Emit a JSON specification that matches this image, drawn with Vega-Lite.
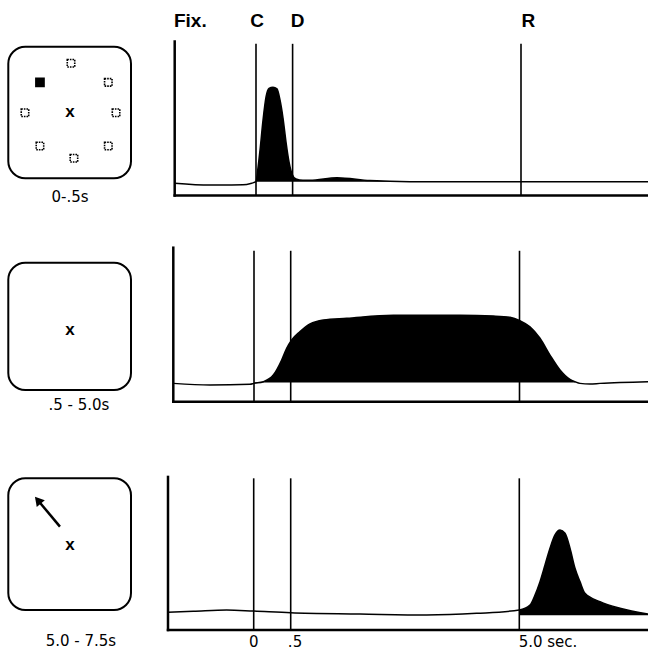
{
  "$schema": "https://vega.github.io/schema/vega-lite/v6.json",
  "padding": 0,
  "background": "white",
  "config": {"view": {"stroke": null}, "axis": {"disable": true}, "font": "Liberation Sans"},
  "columns": 2,
  "spacing": 0,
  "bounds": "flush",
  "datasets": {
    "row1": [
      {"t": -1.6, "rate": 8.0}, {"t": -0.905, "rate": 6.8}, {"t": -0.256, "rate": 6.9}, {"t": -0.085, "rate": 8.0},
      {"t": 0, "rate": 9.0}, {"t": 0.027, "rate": 17.9}, {"t": 0.055, "rate": 29.5}, {"t": 0.096, "rate": 49.0},
      {"t": 0.137, "rate": 64.0}, {"t": 0.178, "rate": 69.5}, {"t": 0.232, "rate": 70.3}, {"t": 0.287, "rate": 69.2},
      {"t": 0.328, "rate": 62.0}, {"t": 0.369, "rate": 50.3}, {"t": 0.41, "rate": 34.7}, {"t": 0.451, "rate": 21.8},
      {"t": 0.492, "rate": 14.0}, {"t": 0.567, "rate": 10.7}, {"t": 0.705, "rate": 9.9}, {"t": 0.843, "rate": 9.9},
      {"t": 1.375, "rate": 11.6}, {"t": 2.025, "rate": 9.7}, {"t": 2.81, "rate": 9.0}, {"t": 7.5, "rate": 9.0}
    ],
    "row2": [
      {"t": -1.6, "rate": 11.9}, {"t": -0.872, "rate": 10.8}, {"t": -0.079, "rate": 11.3}, {"t": 0, "rate": 11.9},
      {"t": 0.127, "rate": 13.0}, {"t": 0.263, "rate": 17.3}, {"t": 0.377, "rate": 27.1}, {"t": 0.445, "rate": 34.7},
      {"t": 0.52, "rate": 40.1}, {"t": 0.683, "rate": 45.5}, {"t": 0.88, "rate": 50.5}, {"t": 1.142, "rate": 53.1},
      {"t": 1.602, "rate": 54.2}, {"t": 2.52, "rate": 56.1}, {"t": 3.833, "rate": 56.1}, {"t": 4.488, "rate": 55.6},
      {"t": 4.813, "rate": 54.8}, {"t": 5.01, "rate": 52.6}, {"t": 5.204, "rate": 48.7}, {"t": 5.399, "rate": 41.2},
      {"t": 5.593, "rate": 30.3}, {"t": 5.788, "rate": 20.6}, {"t": 5.982, "rate": 14.5}, {"t": 6.08, "rate": 13.0},
      {"t": 6.177, "rate": 11.9}, {"t": 6.371, "rate": 11.5}, {"t": 6.566, "rate": 11.9}, {"t": 7.5, "rate": 13.0}
    ],
    "row3": [
      {"t": -1.6, "rate": 11.5}, {"t": -1.128, "rate": 12.1}, {"t": -0.505, "rate": 13.0}, {"t": 0, "rate": 12.3},
      {"t": 0.5, "rate": 11.2}, {"t": 1.864, "rate": 10.4}, {"t": 3.177, "rate": 9.7}, {"t": 4.16, "rate": 10.8},
      {"t": 5.0, "rate": 13.0}, {"t": 5.208, "rate": 16.2}, {"t": 5.305, "rate": 22.7}, {"t": 5.402, "rate": 31.4},
      {"t": 5.499, "rate": 42.2}, {"t": 5.596, "rate": 53.1}, {"t": 5.693, "rate": 61.7}, {"t": 5.791, "rate": 64.9},
      {"t": 5.888, "rate": 62.8}, {"t": 5.985, "rate": 53.1}, {"t": 6.082, "rate": 40.1}, {"t": 6.179, "rate": 31.4},
      {"t": 6.276, "rate": 23.8}, {"t": 6.568, "rate": 18.4}, {"t": 6.956, "rate": 14.1}, {"t": 7.5, "rate": 10.4}
    ],
    "events": [{"t": 0}, {"t": 0.5}, {"t": 5}],
    "head": [{"t": -1.293, "label": "Fix."}, {"t": 0.016, "label": "C"}, {"t": 0.597, "label": "D"}, {"t": 5.144, "label": "R"}],
    "foot": [{"t": 0, "label": "0"}, {"t": 0.585, "label": ".5"}, {"t": 5.558, "label": "5.0 sec."}],
    "p1": [
      {"u": 0.511, "v": 0.874, "kind": "target"}, {"u": 0.815, "v": 0.729, "kind": "target"},
      {"u": 0.878, "v": 0.498, "kind": "target"}, {"u": 0.815, "v": 0.245, "kind": "target"},
      {"u": 0.535, "v": 0.152, "kind": "target"}, {"u": 0.258, "v": 0.245, "kind": "target"},
      {"u": 0.136, "v": 0.498, "kind": "target"}, {"u": 0.258, "v": 0.729, "kind": "cue"}
    ]
  },
  "concat": [
    {
      "width": 168, "height": 210,
      "layer": [
        {"data": {"values": [{}]}, "mark": {"type": "rect", "cornerRadius": 17, "filled": false, "color": "black", "strokeWidth": 2},
         "encoding": {"x": {"datum": 0, "type": "quantitative", "scale": {"domain": [-0.0676, 1.3015], "nice": false, "zero": false}}, "x2": {"datum": 1},
                      "y": {"datum": 0, "type": "quantitative", "scale": {"domain": [-0.241, 1.355], "nice": false, "zero": false}}, "y2": {"datum": 1}}},
        {"data": {"name": "p1"}, "transform": [{"filter": "datum.kind == 'target'"}],
         "mark": {"type": "point", "shape": "square", "size": 56, "filled": false, "color": "black", "strokeWidth": 1.6, "strokeDash": [1.6, 1], "opacity": 1},
         "encoding": {"x": {"field": "u", "type": "quantitative"}, "y": {"field": "v", "type": "quantitative"}}},
        {"data": {"name": "p1"}, "transform": [{"filter": "datum.kind == 'cue'"}],
         "mark": {"type": "point", "shape": "square", "size": 95, "filled": true, "color": "black", "opacity": 1},
         "encoding": {"x": {"field": "u", "type": "quantitative"}, "y": {"field": "v", "type": "quantitative"}}},
        {"data": {"values": [{}]}, "mark": {"type": "text", "text": "x", "fontWeight": "bold", "fontSize": 17, "baseline": "middle", "color": "black"},
         "encoding": {"x": {"datum": 0.503}, "y": {"datum": 0.506}}},
        {"data": {"values": [{}]}, "mark": {"type": "text", "text": "0-.5s", "font": "DejaVu Sans", "fontSize": 15, "baseline": "middle", "color": "black"},
         "encoding": {"x": {"datum": 0.503}, "y": {"datum": -0.14}}}
      ]
    },
    {
      "width": 480, "height": 210,
      "layer": [
        {"data": {"name": "row1"}, "transform": [{"filter": "datum.t >= 0"}],
         "mark": {"type": "area", "color": "black", "interpolate": "monotone", "opacity": 1},
         "encoding": {"x": {"field": "t", "type": "quantitative", "scale": {"domain": [-1.6, 0, 0.5, 5, 7.5], "range": [6.7, 88, 124.6, 353, 480], "nice": false, "zero": false}},
                      "y": {"field": "rate", "type": "quantitative", "scale": {"domain": [-9.416, 126.948], "nice": false, "zero": false}},
                      "y2": {"datum": 9.0}}},
        {"data": {"name": "row1"}, "mark": {"type": "line", "color": "black", "strokeWidth": 1.5, "interpolate": "monotone"},
         "encoding": {"x": {"field": "t", "type": "quantitative"}, "y": {"field": "rate", "type": "quantitative"}}},
        {"data": {"name": "events"}, "mark": {"type": "rule", "color": "black", "strokeWidth": 1.6},
         "encoding": {"x": {"field": "t", "type": "quantitative"}, "y": {"datum": 0}, "y2": {"datum": 98.5}}},
        {"data": {"values": [{}]}, "mark": {"type": "rule", "color": "black", "strokeWidth": 2.5, "strokeCap": "square"},
         "encoding": {"x": {"datum": -1.6}, "y": {"datum": 0}, "y2": {"datum": 100}}},
        {"data": {"values": [{}]}, "mark": {"type": "rule", "color": "black", "strokeWidth": 2.5, "strokeCap": "square"},
         "encoding": {"x": {"datum": -1.6}, "x2": {"datum": 7.5}, "y": {"datum": 0}}},
        {"data": {"name": "head"}, "mark": {"type": "text", "fontWeight": "bold", "fontSize": 19, "baseline": "middle", "color": "black"},
         "encoding": {"x": {"field": "t", "type": "quantitative"}, "y": {"datum": 113}, "text": {"field": "label"}}}
      ]
    },
    {
      "width": 168, "height": 230,
      "layer": [
        {"data": {"values": [{}]}, "mark": {"type": "rect", "cornerRadius": 17, "filled": false, "color": "black", "strokeWidth": 2},
         "encoding": {"x": {"datum": 0, "type": "quantitative", "scale": {"domain": [-0.0676, 1.3015], "nice": false, "zero": false}}, "x2": {"datum": 1},
                      "y": {"datum": 0, "type": "quantitative", "scale": {"domain": [-0.393, 1.414], "nice": false, "zero": false}}, "y2": {"datum": 1}}},
        {"data": {"values": [{}]}, "mark": {"type": "text", "text": "x", "fontWeight": "bold", "fontSize": 17, "baseline": "middle", "color": "black"},
         "encoding": {"x": {"datum": 0.503}, "y": {"datum": 0.471}}},
        {"data": {"values": [{}]}, "mark": {"type": "text", "text": ".5 - 5.0s", "font": "DejaVu Sans", "fontSize": 15, "baseline": "middle", "color": "black"},
         "encoding": {"x": {"datum": 0.575}, "y": {"datum": -0.118}}}
      ]
    },
    {
      "width": 480, "height": 230,
      "layer": [
        {"data": {"name": "row2"}, "transform": [{"filter": "datum.t >= 0 && datum.t <= 6.08"}],
         "mark": {"type": "area", "color": "black", "interpolate": "monotone", "opacity": 1},
         "encoding": {"x": {"field": "t", "type": "quantitative", "scale": {"domain": [-1.6, 0, 0.5, 5, 7.5], "range": [5.3, 86, 122.7, 351.5, 480], "nice": false, "zero": false}},
                      "y": {"field": "rate", "type": "quantitative", "scale": {"domain": [-24.87, 124.48], "nice": false, "zero": false}},
                      "y2": {"datum": 12.4}}},
        {"data": {"name": "row2"}, "mark": {"type": "line", "color": "black", "strokeWidth": 1.5, "interpolate": "monotone"},
         "encoding": {"x": {"field": "t", "type": "quantitative"}, "y": {"field": "rate", "type": "quantitative"}}},
        {"data": {"name": "events"}, "mark": {"type": "rule", "color": "black", "strokeWidth": 1.6},
         "encoding": {"x": {"field": "t", "type": "quantitative"}, "y": {"datum": 0}, "y2": {"datum": 98}}},
        {"data": {"values": [{}]}, "mark": {"type": "rule", "color": "black", "strokeWidth": 2.5, "strokeCap": "square"},
         "encoding": {"x": {"datum": -1.6}, "y": {"datum": 0}, "y2": {"datum": 100}}},
        {"data": {"values": [{}]}, "mark": {"type": "rule", "color": "black", "strokeWidth": 2.5, "strokeCap": "square"},
         "encoding": {"x": {"datum": -1.6}, "x2": {"datum": 7.5}, "y": {"datum": 0}}}
      ]
    },
    {
      "width": 168, "height": 219,
      "layer": [
        {"data": {"values": [{}]}, "mark": {"type": "rect", "cornerRadius": 17, "filled": false, "color": "black", "strokeWidth": 2},
         "encoding": {"x": {"datum": 0, "type": "quantitative", "scale": {"domain": [-0.0676, 1.3015], "nice": false, "zero": false}}, "x2": {"datum": 1},
                      "y": {"datum": 0, "type": "quantitative", "scale": {"domain": [-0.372, 1.291], "nice": false, "zero": false}}, "y2": {"datum": 1}}},
        {"data": {"values": [{}]}, "mark": {"type": "rule", "color": "black", "strokeWidth": 2.5},
         "encoding": {"x": {"datum": 0.421}, "y": {"datum": 0.633}, "x2": {"datum": 0.241}, "y2": {"datum": 0.834}}},
        {"data": {"values": [{}]}, "mark": {"type": "point", "shape": "triangle-up", "size": 110, "filled": true, "color": "black", "opacity": 1, "angle": 320},
         "encoding": {"x": {"datum": 0.241}, "y": {"datum": 0.834}}},
        {"data": {"values": [{}]}, "mark": {"type": "text", "text": "x", "fontWeight": "bold", "fontSize": 17, "baseline": "middle", "color": "black"},
         "encoding": {"x": {"datum": 0.503}, "y": {"datum": 0.494}}},
        {"data": {"values": [{}]}, "mark": {"type": "text", "text": "5.0 - 7.5s", "font": "DejaVu Sans", "fontSize": 15, "baseline": "middle", "color": "black"},
         "encoding": {"x": {"datum": 0.592}, "y": {"datum": -0.235}}}
      ]
    },
    {
      "width": 480, "height": 219,
      "layer": [
        {"data": {"name": "row3"}, "transform": [{"filter": "datum.t >= 5"}],
         "mark": {"type": "area", "color": "black", "interpolate": "monotone", "opacity": 1},
         "encoding": {"x": {"field": "t", "type": "quantitative", "scale": {"domain": [-1.6, 0, 0.5, 5, 7.5], "range": [0, 85.7, 122.7, 351.3, 480], "nice": false, "zero": false}},
                      "y": {"field": "rate", "type": "quantitative", "scale": {"domain": [-18.83, 123.38], "nice": false, "zero": false}},
                      "y2": {"datum": 9.5}}},
        {"data": {"name": "row3"}, "mark": {"type": "line", "color": "black", "strokeWidth": 1.5, "interpolate": "monotone"},
         "encoding": {"x": {"field": "t", "type": "quantitative"}, "y": {"field": "rate", "type": "quantitative"}}},
        {"data": {"name": "events"}, "mark": {"type": "rule", "color": "black", "strokeWidth": 1.6},
         "encoding": {"x": {"field": "t", "type": "quantitative"}, "y": {"datum": 0}, "y2": {"datum": 98.5}}},
        {"data": {"values": [{}]}, "mark": {"type": "rule", "color": "black", "strokeWidth": 2.5, "strokeCap": "square"},
         "encoding": {"x": {"datum": -1.6}, "y": {"datum": 0}, "y2": {"datum": 99.4}}},
        {"data": {"values": [{}]}, "mark": {"type": "rule", "color": "black", "strokeWidth": 2.5, "strokeCap": "square"},
         "encoding": {"x": {"datum": -1.6}, "x2": {"datum": 7.5}, "y": {"datum": 0}}},
        {"data": {"name": "foot"}, "mark": {"type": "text", "font": "DejaVu Sans", "fontSize": 15, "baseline": "middle", "color": "black"},
         "encoding": {"x": {"field": "t", "type": "quantitative"}, "y": {"datum": -7.6}, "text": {"field": "label"}}}
      ]
    }
  ]
}
